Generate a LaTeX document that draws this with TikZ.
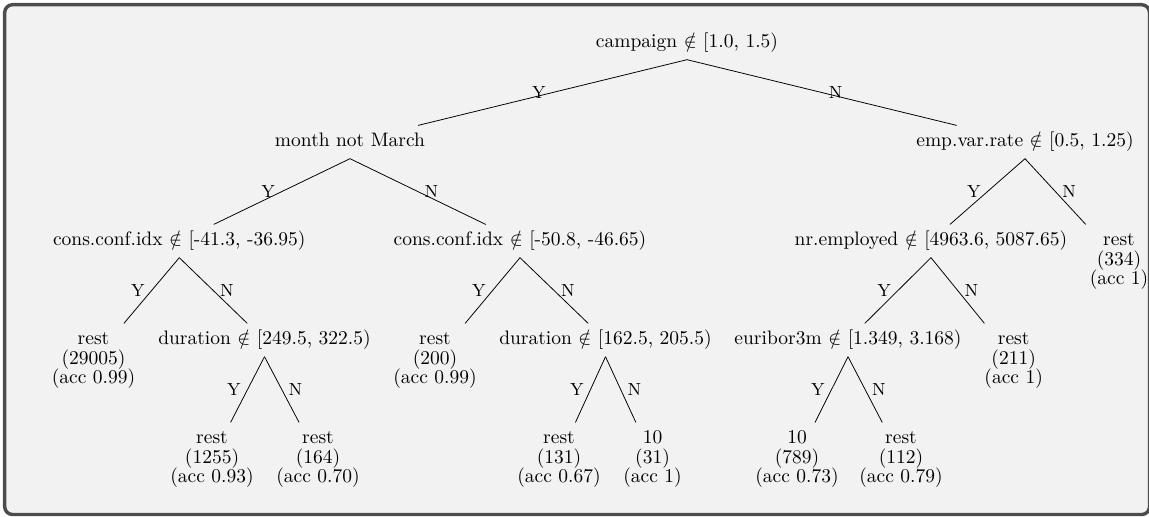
\documentclass[tikz,border=0pt]{standalone}
\usepackage{tikz}

\begin{document}
\begin{tikzpicture}[x=0.5128pt, y=-0.5128pt,
		frame/.style={draw=black!70, fill=black!5, line width=1.75pt, rounded corners=4pt},
		split/.style={anchor=north, text height=7.5pt, text depth=2.5pt},
		leaf/.style={anchor=north, align=center, font={\fontsize{10pt}{9.95pt}\selectfont\lineskiplimit=-5pt}},
		yn/.style={font=\small}]
				\useasboundingbox (0, 0) rectangle (1149, 516);
				\draw[frame] (4.7, 4.7) rectangle (1149.5, 514.5);
				% splits
				\node[split] (root) at (687, 26.4) {campaign $\notin$ [1.0, 1.5)};
				\node[split] (month) at (350, 125.4) {month not March};
				\node[split] (emp) at (1025, 125.4) {emp.var.rate $\notin$ [0.5, 1.25)};
				\node[split] (cons1) at (179.3, 224.4) {cons.conf.idx $\notin$ [-41.3, -36.95)};
				\node[split] (cons2) at (520, 224.4) {cons.conf.idx $\notin$ [-50.8, -46.65)};
				\node[split] (nr) at (931, 224.4) {nr.employed $\notin$ [4963.6, 5087.65)};
				\node[split] (dur1) at (264.5, 323.4) {duration $\notin$ [249.5, 322.5)};
				\node[split] (dur2) at (605.5, 323.4) {duration $\notin$ [162.5, 205.5)};
				\node[split] (eur) at (848, 323.4) {euribor3m $\notin$ [1.349, 3.168)};
				% leaves (the phantom gives the first line the height of a bracket)
				\node[leaf] (r334) at (1119, 224.4) {\vphantom{(}rest\\(334)\\(acc 1)};
				\node[leaf] (r29005) at (93.5, 323.4) {\vphantom{(}rest\\(29005)\\(acc 0.99)};
				\node[leaf] (r200) at (435, 323.4) {\vphantom{(}rest\\(200)\\(acc 0.99)};
				\node[leaf] (r211) at (1013.7, 323.4) {\vphantom{(}rest\\(211)\\(acc 1)};
				\node[leaf] (r1255) at (212, 422.4) {\vphantom{(}rest\\(1255)\\(acc 0.93)};
				\node[leaf] (r164) at (318, 422.4) {\vphantom{(}rest\\(164)\\(acc 0.70)};
				\node[leaf] (r131) at (559, 422.4) {\vphantom{(}rest\\(131)\\(acc 0.67)};
				\node[leaf] (t31) at (652.5, 422.4) {\vphantom{(}10\\(31)\\(acc 1)};
				\node[leaf] (t789) at (797, 422.4) {\vphantom{(}10\\(789)\\(acc 0.73)};
				\node[leaf] (r112) at (901, 422.4) {\vphantom{(}rest\\(112)\\(acc 0.79)};
				% branches
				\draw (root.south) -- (month) node[midway, left, yn] {Y};
				\draw (root.south) -- (emp) node[midway, right, yn] {N};
				\draw (month.south) -- (cons1) node[midway, left, yn] {Y};
				\draw (month.south) -- (cons2) node[midway, right, yn] {N};
				\draw (emp.south) -- (nr) node[midway, left, yn] {Y};
				\draw (emp.south) -- (r334) node[midway, right, yn] {N};
				\draw (cons1.south) -- (r29005) node[midway, left, yn] {Y};
				\draw (cons1.south) -- (dur1) node[midway, right, yn] {N};
				\draw (cons2.south) -- (r200) node[midway, left, yn] {Y};
				\draw (cons2.south) -- (dur2) node[midway, right, yn] {N};
				\draw (nr.south) -- (eur) node[midway, left, yn] {Y};
				\draw (nr.south) -- (r211) node[midway, right, yn] {N};
				\draw (dur1.south) -- (r1255) node[midway, left, yn] {Y};
				\draw (dur1.south) -- (r164) node[midway, right, yn] {N};
				\draw (dur2.south) -- (r131) node[midway, left, yn] {Y};
				\draw (dur2.south) -- (t31) node[midway, right, yn] {N};
				\draw (eur.south) -- (t789) node[midway, left, yn] {Y};
				\draw (eur.south) -- (r112) node[midway, right, yn] {N};
			\end{tikzpicture}
\end{document}
